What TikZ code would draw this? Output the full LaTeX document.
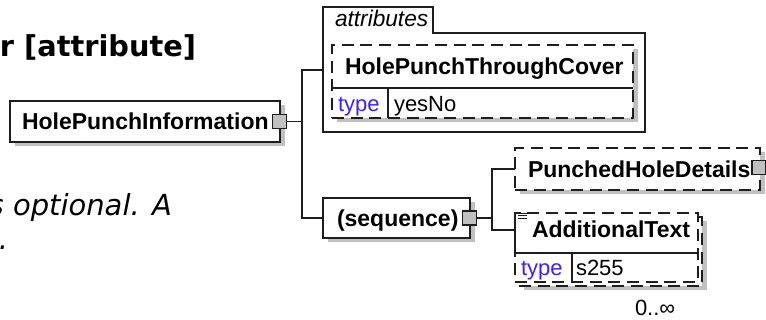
\documentclass[tikz,border=0pt]{standalone}
\usepackage{fontspec}
\setmainfont{Liberation Sans}
\newfontfamily\dejavu{DejaVu Sans}
\usetikzlibrary{shadows}
\definecolor{shade}{RGB}{192,192,192}
\definecolor{typeblue}{RGB}{64,32,255}
\definecolor{edge}{RGB}{30,30,30}
\tikzset{
  every node/.style={inner sep=0pt, outer sep=0pt},
  boxline/.style={draw=edge, line width=1.1pt},
  elbox/.style={boxline, fill=white,
    drop shadow={shadow xshift=3.75pt, shadow yshift=-3pt, fill=shade, opacity=1}},
  optbox/.style={elbox, dash pattern=on 9pt off 5pt},
  dashbox/.style={boxline, fill=white, dash pattern=on 9pt off 5pt},
  sq/.style={draw=edge, line width=0.9pt, fill=shade, minimum width=10.5pt, minimum height=10.5pt},
  conn/.style={draw=edge, line width=1.1pt},
  bname/.style={font=\fontsize{17.25pt}{20pt}\selectfont\bfseries, anchor=base west},
  tlabel/.style={font=\fontsize{16.5pt}{20pt}\selectfont, anchor=base west},
  ttype/.style={tlabel, text=typeblue},
  title/.style={font=\dejavu\fontsize{21.6pt}{26pt}\selectfont\bfseries},
  body/.style={font=\dejavu\fontsize{21.75pt}{26pt}\selectfont\itshape, anchor=base west},
}
\begin{document}
\begin{tikzpicture}[x=0.75pt,y=-0.75pt]
\useasboundingbox (0,0) rectangle (766,320);
\clip (0,0) rectangle (766,320);

% page text (cropped)
\node[title, anchor=base east] (ttl) at (196,57) {r [attribute]};
\node[body] (b1) at (-11.3,215) {s optional. A};
\node[body, anchor=base east] (b2) at (8,249) {e.};

% junction coordinates
\coordinate (j1) at (302,121.5);
\coordinate (attrin) at (323,70);
\coordinate (j2) at (492,218);
\coordinate (atin) at (515,230);

% attributes group
\draw[boxline] (323,132) -- (323,7) -- (433,7) -- (433,33) -- (645,33) -- (645,132) -- cycle;
\node[font=\fontsize{17pt}{20pt}\selectfont\itshape, anchor=base west] (attrlbl) at (335,27) {attributes};

% boxes
\node[elbox, minimum width=202.5pt, minimum height=30.75pt] (hpi) at (145,121.5) {};
\node[optbox, minimum width=225.75pt, minimum height=54.75pt] (hptc) at (482.5,81.5) {};
\node[elbox, minimum width=110.25pt, minimum height=30pt] (seq) at (396.5,218) {};
\node[optbox, minimum width=183.75pt, minimum height=31.5pt] (phd) at (637.5,169) {};
\node[optbox, minimum width=137.25pt, minimum height=51.75pt] (atback) at (610.5,251.5) {};
\node[dashbox, minimum width=137.25pt, minimum height=51.75pt] (atfront) at (606.5,247.5) {};

% connectors
\draw[conn] (j1) -- (302,121.5);
\draw[conn] (attrin) -| (j1) |- (seq.west);
\draw[conn] (phd.west) -| (j2) |- (atin);

% squares
\node[sq] (hpisq) at (279.5,121.5) {};
\node[sq] (seqsq) at (469.5,218) {};
\node[sq] (phdsq) at (759,167.5) {};
\draw[conn] (hpisq.east) -- (j1);
\draw[conn] (seqsq.east) -- (j2);

% HolePunchThroughCover details
\draw[boxline] (hptc.west |- 0,88) -- (hptc.east |- 0,88);
\draw[boxline] (388,88) -- (388,118);
\node[bname] (hptcname) at (345,75) {HolePunchThroughCover};
\node[ttype] (hptctype) at (338,112) {type};
\node[tlabel] (hptcval) at (394,112) {yesNo};

% main labels
\node[bname] (hpiname) at (22,130) {HolePunchInformation};
\node[bname] (seqname) at (337,226) {(sequence)};
\node[bname] (phdname) at (528,178) {PunchedHoleDetails};

% AdditionalText details
\draw[boxline] (515,213) -- (515,253) -- (699,253);
\draw[boxline] (572,253) -- (572,282);
\draw[draw=edge, line width=0.6pt] (516,213) -- (527,213) (518,215.5) -- (527,215.5) (518,218) -- (527,218);
\node[bname] (atname) at (532,237) {AdditionalText};
\node[ttype] (attype) at (521,275) {type};
\node[tlabel] (atval) at (576,275) {s255};
\node[tlabel] (occ) at (635,315) {0..∞};
\end{tikzpicture}
\end{document}
